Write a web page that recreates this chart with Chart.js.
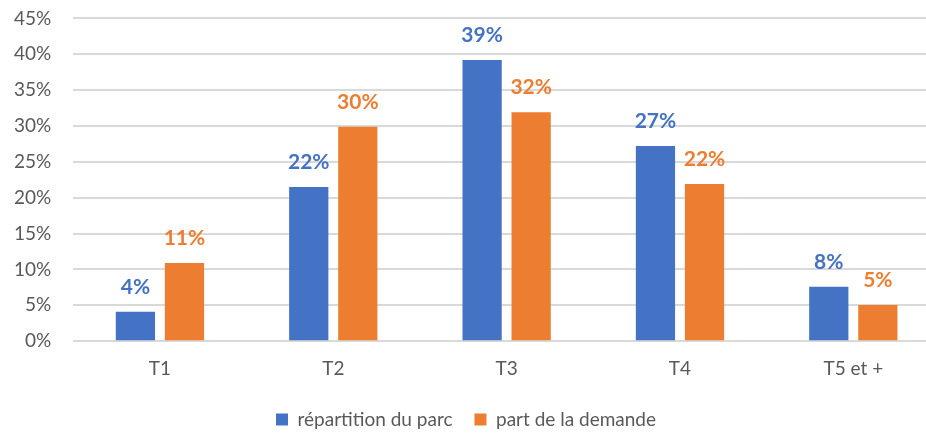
<!DOCTYPE html>
<html>
<head>
<meta charset="utf-8">
<script src="https://cdn.jsdelivr.net/npm/chart.js@4"></script>
<style>
  html, body { margin: 0; padding: 0; background: #fff; overflow: hidden; }
  #wrap { width: 926px; height: 439px; overflow: hidden; }
  #chart1 { display: block; margin-top: -15px; }
</style>
</head>
<body>
<div id="wrap"><canvas id="chart1" width="940" height="454"></canvas></div>
<script>
var categories = ["T1", "T2", "T3", "T4", "T5 et +"];
var repartitionParc = [4.1, 21.5, 39.2, 27.2, 7.6];
var partDemande = [10.9, 29.9, 31.9, 21.9, 5.05];
var yTicks = [0, 5, 10, 15, 20, 25, 30, 35, 40, 45];

var FONT = "Lato, 'Open Sans', sans-serif";

// draws the % values above each bar
var barLabels = {
  id: "barLabels",
  afterDatasetsDraw: function(chart) {
    var ctx = chart.ctx;
    ctx.save();
    ctx.font = "bold 21px " + FONT;
    ctx.textAlign = "center";
    ctx.textBaseline = "alphabetic";
    chart.data.datasets.forEach(function(ds, i) {
      var meta = chart.getDatasetMeta(i);
      ctx.fillStyle = ds.backgroundColor;
      meta.data.forEach(function(bar, j) {
        ctx.fillText(Math.round(ds.data[j]) + "%", bar.x, bar.y - 18);
      });
    });
    ctx.restore();
  }
};

new Chart(document.getElementById("chart1"), {
  type: "bar",
  data: {
    labels: categories,
    datasets: [
      { label: "répartition du parc", data: repartitionParc, backgroundColor: "#4472C4",
        categoryPercentage: 0.566, barPercentage: 0.8 },
      { label: "part de la demande", data: partDemande, backgroundColor: "#ED7D31",
        categoryPercentage: 0.566, barPercentage: 0.8 }
    ]
  },
  options: {
    responsive: false,
    animation: false,
    layout: { padding: { left: -8, top: 0, right: 0, bottom: 0 } },
    plugins: {
      legend: {
        position: "bottom",
        labels: { boxWidth: 12, boxHeight: 12, color: "#595959", padding: 22,
                  font: { family: FONT, size: 19 } }
      },
      tooltip: { enabled: false }
    },
    scales: {
      x: {
        grid: { display: false },
        border: { display: false },
        ticks: { color: "#595959", padding: 8, font: { family: FONT, size: 19 } }
      },
      y: {
        min: 0,
        max: 45,
        afterBuildTicks: function(axis) {
          axis.ticks = yTicks.map(function(v) { return { value: v }; });
        },
        grid: { color: "#d9d9d9", lineWidth: 2, drawTicks: false },
        border: { display: false },
        ticks: { color: "#595959", padding: 22, font: { family: FONT, size: 19 },
                 callback: function(v) { return v + "%"; } }
      }
    }
  },
  plugins: [barLabels]
});
</script>
</body>
</html>
